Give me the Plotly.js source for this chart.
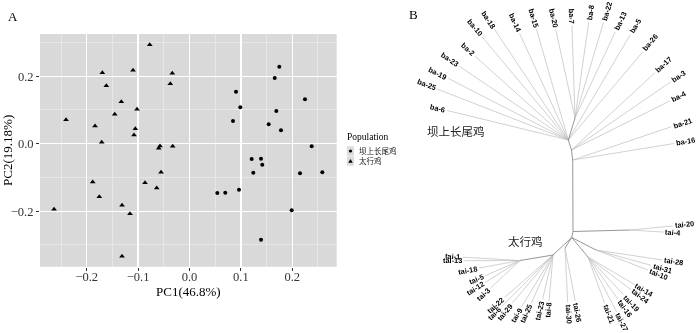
<!DOCTYPE html>
<html>
<head>
<meta charset="utf-8">
<script src="https://cdn.plot.ly/plotly-3.0.1.min.js"></script>
<style>html,body{margin:0;padding:0;background:#fff;}#chart{width:700px;height:333px;filter:grayscale(1);}</style>
</head>
<body>
<div id="chart"></div>
<script>
// ---------- Panel A: PCA ----------
const groupNames = ['坝上长尾鸡', '太行鸡'];
const pc1_ba = [0.1747, 0.1658, 0.0905, 0.2247, 0.0988, 0.1689, 0.0846, 0.1541, 0.1780, 0.2377, 0.1210,
                0.1391, 0.1416, 0.1241, 0.2150, 0.2584, 0.0541, 0.0696, 0.0963, 0.1988, 0.1391];
const pc2_ba = [0.2281, 0.1947, 0.1541, 0.1316, 0.1079, 0.0969, 0.0673, 0.0575, 0.0397, -0.0077, -0.0453,
                -0.0444, -0.0622, -0.0859, -0.0877, -0.0847, -0.1461, -0.1452, -0.1363, -0.1970, -0.2844];
const pc1_tai = [-0.0774, -0.1696, -0.1099, -0.0335, -0.0374, -0.1619, -0.1327, -0.1021, -0.1455, -0.2403,
                 -0.1838, -0.1054, -0.1080, -0.1708, -0.0574, -0.0599, -0.0327, -0.0554, -0.1883, -0.0866,
                 -0.0638, -0.1755, -0.1313, -0.2636, -0.1158, -0.1313];
const pc2_tai = [0.2933, 0.2104, 0.2175, 0.2086, 0.1778, 0.1719, 0.1244, 0.1019, 0.0871, 0.0711,
                 0.0524, 0.0444, 0.0258, 0.0041, -0.0068, -0.0136, -0.0077, -0.0847, -0.1135, -0.1156,
                 -0.1313, -0.1570, -0.1825, -0.1944, -0.2074, -0.3336];
const xTickVals = [-0.2, -0.1, 0, 0.1, 0.2];
const xTickText = ['\u22120.2', '\u22120.1', '0.0', '0.1', '0.2'];
const xMinorVals = [-0.25, -0.15, -0.05, 0.05, 0.15, 0.25];
const yTickVals = [-0.2, 0, 0.2];
const yTickText = ['\u22120.2', '0.0', '0.2'];
const yMinorVals = [-0.3, -0.1, 0.1, 0.3];
const xTitle = 'PC1(46.8%)';
const yTitle = 'PC2(19.18%)';
const legendTitle = 'Population';

// ---------- Panel B: unrooted tree (layout coordinates) ----------
const nodeId     = ['n2', 'a20', 'k1', 'k2', 'h', 's', 'b20', 'bR', 'aR', 'c', 'd', 'L'];
const nodeX      = [571.7, 573.0, 572.7, 571.5, 568.3, 575.0, 630.0, 596.0, 588.0, 565.0, 553.0, 520.0];
const nodeY      = [237.5, 231.5, 160.0, 150.0, 140.0, 118.0, 230.0, 250.0, 257.0, 248.0, 255.0, 260.5];
const nodeParent = [null, 'n2', 'a20', 'k1', 'k2', 'h', 'a20', 'n2', 'n2', 'n2', 'n2', 'd'];

const tipName = ['ba-18','ba-10','ba-2','ba-23','ba-19','ba-25','ba-6','ba-14','ba-15',
                 'ba-20','ba-7','ba-8','ba-22','ba-13','ba-5','ba-26','ba-17','ba-3','ba-4','ba-21','ba-16',
                 'tai-20','tai-4','tai-28','tai-31','tai-10',
                 'tai-14','tai-24','tai-19','tai-16','tai-27','tai-21',
                 'tai-26','tai-30',
                 'tai-1','tai-13','tai-18','tai-5','tai-12','tai-3',
                 'tai-22','tai-6','tai-29','tai-9','tai-25','tai-23','tai-8'];
const tipX = [494.5, 482.1, 475.1, 459.2, 448.2, 437.0, 447.2, 519.6, 536.4,
              555.7, 572.0, 588.7, 603.5, 615.3, 630.3, 642.8, 655.2, 670.7, 670.1, 671.2, 674.0,
              672.9, 663.5, 662.3, 651.0, 647.9,
              634.4, 631.2, 623.4, 617.9, 616.6, 604.5,
              575.2, 567.7,
              462.5, 464.4, 479.3, 484.8, 485.3, 490.5,
              504.3, 501.5, 512.2, 521.5, 531.3, 542.6, 549.1];
const tipY = [29.2, 36.8, 56.2, 66.2, 78.4, 89.0, 110.5, 33.4, 29.0,
              29.1, 25.9, 22.5, 22.3, 31.8, 34.6, 51.8, 72.5, 81.9, 100.8, 126.8, 143.5,
              226.0, 232.1, 260.0, 265.3, 270.0,
              284.4, 289.9, 294.6, 299.2, 311.9, 302.9,
              300.8, 302.2,
              257.2, 260.7, 268.0, 275.9, 282.4, 288.1,
              297.7, 306.8, 303.2, 307.1, 303.2, 299.2, 300.8];
const tipParent = ['h','h','h','h','h','h','h','h','h',
                   's','s','s','s','s','h','h','k2','k2','k2','k1','k1',
                   'b20','b20','bR','bR','bR',
                   'aR','aR','aR','aR','aR','aR',
                   'c','c',
                   'L','L','L','L','L','L',
                   'd','d','d','d','d','d','d'];
const cladeNames = ['坝上长尾鸡', '太行鸡'];
const cladeX = [456, 525.5];
const cladeY = [131, 241];

// ---------- helpers ----------
const W = 700, H = 333;
const px = v => v / W, py = v => 1 - v / H;

// ---------- build tree geometry ----------
const nodePos = {};
nodeId.forEach((id, i) => { nodePos[id] = [nodeX[i], nodeY[i]]; });
const inX = [], inY = [];
nodeId.forEach((id, i) => {
  const p = nodeParent[i];
  if (p) { inX.push(nodePos[p][0], nodeX[i], null); inY.push(nodePos[p][1], nodeY[i], null); }
});
const tX = [], tY = [];
tipName.forEach((n, i) => {
  const p = nodePos[tipParent[i]];
  tX.push(p[0], tipX[i], null); tY.push(p[1], tipY[i], null);
});

const cvs = document.createElement('canvas').getContext('2d');
const labelFont = 7.4;
cvs.font = 'bold ' + labelFont + 'px "Liberation Sans"';
const annotations = [];
tipName.forEach((n, i) => {
  const p = nodePos[tipParent[i]];
  const dx = tipX[i] - p[0], dy = tipY[i] - p[1];
  const len = Math.hypot(dx, dy);
  const ux = dx / len, uy = dy / len;
  const w = cvs.measureText(n).width;
  const off = w / 2 + 2;
  let ang = Math.atan2(dy, dx) * 180 / Math.PI;
  if (ang > 90) ang -= 180;
  if (ang < -90) ang += 180;
  annotations.push({
    xref: 'x2', yref: 'y2', x: tipX[i] + ux * off, y: tipY[i] + uy * off,
    text: '<b>' + n + '</b>', showarrow: false, textangle: ang,
    xanchor: 'center', yanchor: 'middle', borderpad: 0,
    font: {family: 'Liberation Sans', size: labelFont, color: '#000'}
  });
});
cladeNames.forEach((n, i) => {
  annotations.push({
    xref: 'x2', yref: 'y2', x: cladeX[i], y: cladeY[i], text: n, showarrow: false,
    xanchor: 'center', yanchor: 'middle',
    font: {family: 'Noto Sans CJK SC', size: 11.5, color: '#222'}
  });
});
annotations.push({xref: 'paper', yref: 'paper', x: px(13.3), y: py(16.7), text: 'A', showarrow: false,
  xanchor: 'center', yanchor: 'middle', font: {family: 'Liberation Serif', size: 13, color: '#000'}});
annotations.push({xref: 'paper', yref: 'paper', x: px(413), y: py(15), text: 'B', showarrow: false,
  xanchor: 'center', yanchor: 'middle', font: {family: 'Liberation Serif', size: 13, color: '#000'}});

// ---------- legend (ggplot style, drawn as decorations) ----------
const serif = 'Liberation Serif, Noto Sans CJK SC';
const legX = 346, legTitleY = 137, legRowY = [151, 161], keyW = 7, keyH = 9.5;
annotations.push({xref: 'paper', yref: 'paper', x: px(legX), y: py(legTitleY), text: legendTitle,
  showarrow: false, xanchor: 'left', yanchor: 'middle', borderpad: 0,
  font: {family: serif, size: 9.5, color: '#000'}});
const shapes = [{type: 'rect', xref: 'x domain', yref: 'y domain', x0: 0, x1: 1, y0: 0, y1: 1,
                 fillcolor: '#d9d9d9', line: {width: 0}, layer: 'below'}];
groupNames.forEach((g, i) => {
  const cy = legRowY[i], cx = legX + 1 + keyW / 2;
  shapes.push({type: 'rect', xref: 'paper', yref: 'paper', x0: px(legX + 1), x1: px(legX + 1 + keyW),
               y0: py(cy + keyH / 2), y1: py(cy - keyH / 2), fillcolor: '#dcdcdc', line: {width: 0}});
  if (i === 0) {
    shapes.push({type: 'circle', xref: 'paper', yref: 'paper', x0: px(cx - 1.6), x1: px(cx + 1.6),
                 y0: py(cy + 1.6), y1: py(cy - 1.6), fillcolor: '#000', line: {width: 0}});
  } else {
    shapes.push({type: 'path', xref: 'paper', yref: 'paper',
                 path: 'M' + px(cx - 2.2) + ',' + py(cy + 1.8) + 'L' + px(cx + 2.2) + ',' + py(cy + 1.8) +
                       'L' + px(cx) + ',' + py(cy - 2.0) + 'Z', fillcolor: '#000', line: {width: 0}});
  }
  annotations.push({xref: 'paper', yref: 'paper', x: px(legX + 12), y: py(cy), text: g, showarrow: false,
    xanchor: 'left', yanchor: 'middle', borderpad: 0,
    font: {family: serif, size: 7.5, color: '#222'}});
});

const traces = [
  {type: 'scatter', mode: 'markers', name: groupNames[0], x: pc1_ba, y: pc2_ba, xaxis: 'x', yaxis: 'y',
   marker: {symbol: 'circle', size: 4, color: '#000'}, showlegend: false},
  {type: 'scatter', mode: 'markers', name: groupNames[1], x: pc1_tai, y: pc2_tai, xaxis: 'x', yaxis: 'y',
   marker: {symbol: 'triangle-up', size: 5, color: '#000'}, showlegend: false},
  {type: 'scatter', mode: 'lines', x: tX, y: tY, xaxis: 'x2', yaxis: 'y2', showlegend: false, hoverinfo: 'skip',
   line: {color: '#bdbdbd', width: 0.7}},
  {type: 'scatter', mode: 'lines', x: inX, y: inY, xaxis: 'x2', yaxis: 'y2', showlegend: false, hoverinfo: 'skip',
   line: {color: '#8a8a8a', width: 0.9}}
];

const axisCommon = {
  showgrid: true, gridcolor: '#ffffff', gridwidth: 1.3, zeroline: false, showline: false,
  ticks: 'outside', ticklen: 3, tickwidth: 1, tickcolor: '#333',
  tickfont: {family: serif, size: 12.5, color: '#333'}, fixedrange: true
};
const layout = {
  width: W, height: H, margin: {l: 0, r: 0, t: 0, b: 0},
  paper_bgcolor: '#ffffff', plot_bgcolor: '#ffffff', showlegend: false,
  xaxis: Object.assign({}, axisCommon, {
    domain: [px(40), px(336.7)], range: [-0.2909, 0.2864], anchor: 'y',
    tickmode: 'array', tickvals: xTickVals, ticktext: xTickText, ticklabelstandoff: -5,
    minor: {tickmode: 'array', tickvals: xMinorVals, showgrid: true, gridcolor: '#eeeeee', gridwidth: 0.6, ticks: ''},
    title: {text: xTitle, font: {family: serif, size: 13, color: '#000'}, standoff: 0}
  }),
  yaxis: Object.assign({}, axisCommon, {
    domain: [1 - 266.7 / H, 1 - 34 / H], range: [-0.3644, 0.325], anchor: 'x',
    tickmode: 'array', tickvals: yTickVals, ticktext: yTickText,
    minor: {tickmode: 'array', tickvals: yMinorVals, showgrid: true, gridcolor: '#eeeeee', gridwidth: 0.6, ticks: ''},
    title: {text: yTitle, font: {family: serif, size: 13, color: '#000'}, standoff: 4}
  }),
  xaxis2: {domain: [px(380), 1], range: [380, 700], anchor: 'y2', visible: false, fixedrange: true},
  yaxis2: {domain: [0, 1], range: [333, 0], anchor: 'x2', visible: false, fixedrange: true},
  shapes: shapes,
  annotations: annotations
};
Plotly.newPlot('chart', traces, layout, {staticPlot: true, displayModeBar: false});
</script>
</body>
</html>
